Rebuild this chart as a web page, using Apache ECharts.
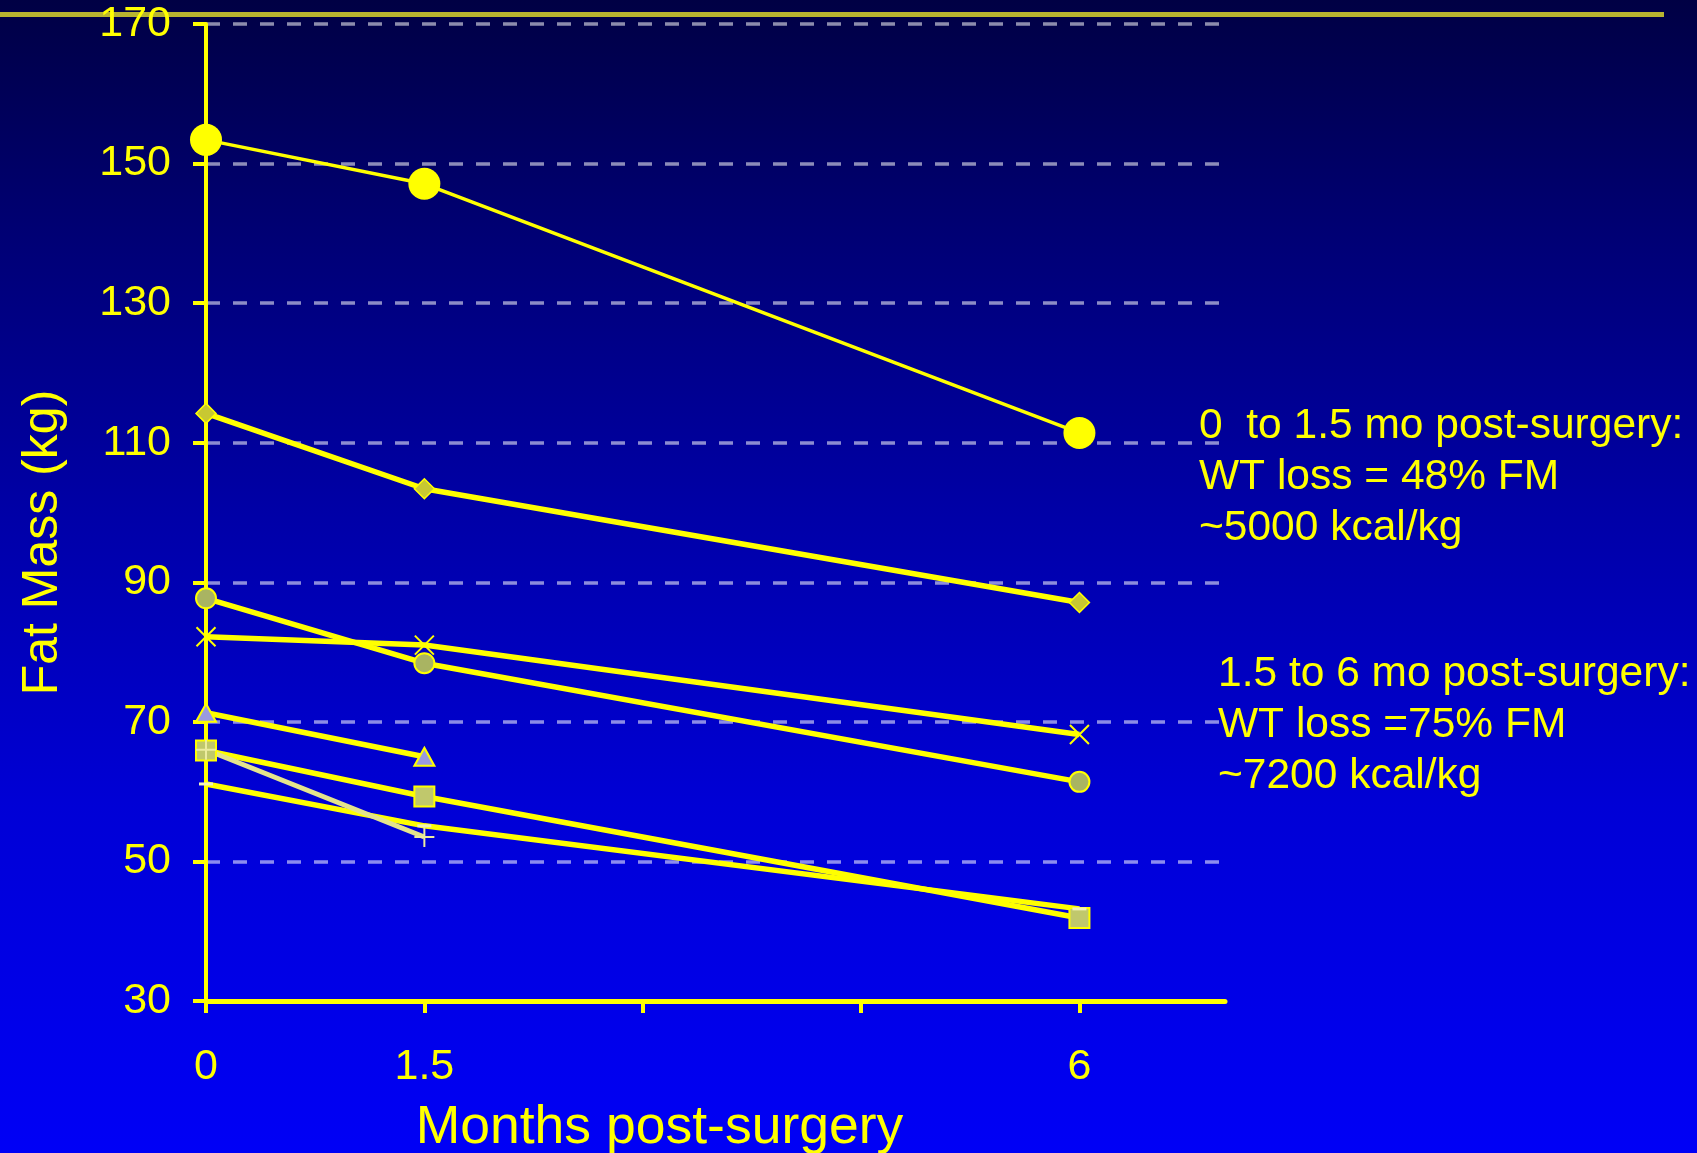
<!DOCTYPE html>
<html>
<head>
<meta charset="utf-8">
<script src="https://cdn.jsdelivr.net/npm/echarts@6/dist/echarts.min.js"></script>
<style>
  html, body { margin: 0; padding: 0; }
  #chart {
    width: 1697px; height: 1153px;
    background: linear-gradient(to bottom, #000044 0%, #000078 22%, #0000a8 45%, #0000d6 70%, #0000f6 100%);
  }
</style>
</head>
<body>
<div id="chart"></div>
<script>
// Months at which fat mass was measured
const months = [0, 1.5, 6];
const monthsShort = [0, 1.5];
const xTickValues = [0, 1.5, 3, 4.5, 6];
const xLabelValues = [0, 1.5, 6];

// Fat mass (kg) per patient
const patientCircleLarge = [153.4, 147.1, 111.4];
const patientDiamond = [114.2, 103.4, 87.1];
const patientCircle = [87.7, 78.4, 61.4];
const patientCross = [82.2, 81.0, 68.2];
const patientTriangle = [71.3, 65.0];
const patientSquare = [65.9, 59.3, 41.9];
const patientDash = [61.1, 55.1, 43.2];
const patientPlus = [66.0, 53.5];

const noteEarly = ['0  to 1.5 mo post-surgery:', 'WT loss = 48% FM', '~5000 kcal/kg'];
const noteLate = ['1.5 to 6 mo post-surgery:', 'WT loss =75% FM', '~7200 kcal/kg'];

const YELLOW = '#ffff00';
const FONT = '"Liberation Sans", Arial, sans-serif';

const pairs = (xs, ys) => ys.map((v, i) => [xs[i], v]);

function lineSeries(name, xs, ys, opts) {
  return Object.assign({
    name: name,
    type: 'line',
    data: pairs(xs, ys),
    showAllSymbol: true,
    lineStyle: { color: YELLOW, width: 5.5 },
    emphasis: { disabled: true }
  }, opts);
}

const chart = echarts.init(document.getElementById('chart'), null, { renderer: 'canvas' });

chart.setOption({
  backgroundColor: 'transparent',
  animation: false,
  textStyle: { fontFamily: FONT },
  grid: { left: 206, right: 472, top: 24, bottom: 152, containLabel: false, outerBoundsMode: 'none' },
  xAxis: {
    type: 'value',
    min: 0, max: 7,
    name: 'Months post-surgery',
    nameLocation: 'middle',
    nameGap: 100,
    nameMoveOverlap: false,
    nameTextStyle: { color: YELLOW, fontSize: 53.5, fontFamily: FONT, padding: [0, 112, 0, 0] },
    axisLine: { onZero: false, lineStyle: { color: YELLOW, width: 5 } },
    axisTick: { show: true, customValues: xTickValues, length: 12, lineStyle: { color: YELLOW, width: 4 } },
    axisLabel: { customValues: xLabelValues, color: YELLOW, fontSize: 43, fontFamily: FONT, margin: 45 },
    splitLine: { show: false }
  },
  yAxis: {
    type: 'value',
    min: 30, max: 170, interval: 20,
    name: 'Fat Mass (kg)',
    nameLocation: 'middle',
    nameGap: 138,
    nameMoveOverlap: false,
    nameTextStyle: { color: YELLOW, fontSize: 50, fontFamily: FONT, padding: [0, 60, 0, 0] },
    axisLine: { show: true, onZero: false, lineStyle: { color: YELLOW, width: 4 } },
    axisTick: { show: true, length: 13, lineStyle: { color: YELLOW, width: 4 } },
    axisLabel: { color: YELLOW, fontSize: 43, fontFamily: FONT, margin: 35 },
    splitLine: { show: true, lineStyle: { color: 'rgba(255,255,255,0.55)', width: 3.5, type: [14, 13] } }
  },
  series: [
    lineSeries('Patient A', months, patientCircleLarge, {
      symbol: 'circle', symbolSize: 32,
      lineStyle: { color: YELLOW, width: 3.5 },
      itemStyle: { color: YELLOW, borderColor: YELLOW, borderWidth: 0 }
    }),
    lineSeries('Patient B', months, patientDiamond, {
      symbol: 'diamond', symbolSize: 20,
      itemStyle: { color: '#c8c832', borderColor: YELLOW, borderWidth: 1.5 }
    }),
    lineSeries('Patient C', months, patientCircle, {
      symbol: 'circle', symbolSize: 20,
      itemStyle: { color: '#a9b462', borderColor: YELLOW, borderWidth: 2 }
    }),
    lineSeries('Patient D', months, patientCross, {
      symbol: 'path://M0,0L10,10M10,0L0,10', symbolSize: 19,
      itemStyle: { color: YELLOW, borderColor: YELLOW, borderWidth: 2 }
    }),
    lineSeries('Patient E', monthsShort, patientTriangle, {
      symbol: 'triangle', symbolSize: [20, 18],
      itemStyle: { color: '#9a9ae0', borderColor: YELLOW, borderWidth: 2 }
    }),
    lineSeries('Patient F', months, patientSquare, {
      symbol: 'rect', symbolSize: 20,
      itemStyle: { color: '#c0c86c', borderColor: YELLOW, borderWidth: 2 }
    }),
    lineSeries('Patient G', months, patientDash, {
      symbol: 'rect', symbolSize: [14, 3],
      itemStyle: { color: '#f2f2b8', borderWidth: 0 }
    }),
    lineSeries('Patient H', monthsShort, patientPlus, {
      symbol: 'path://M5,0L5,10M0,5L10,5', symbolSize: 20,
      lineStyle: { color: '#e4e48c', width: 5 },
      itemStyle: { color: '#ececa0', borderColor: '#ececa0', borderWidth: 2 }
    })
  ],
  graphic: [
    { type: 'rect', left: 0, top: 12, shape: { width: 1664, height: 5 }, style: { fill: '#b8b430' }, silent: true },
    { type: 'text', left: 1199, top: 401, style: { text: noteEarly.join('\n'), fill: YELLOW, font: '42.5px ' + FONT, lineHeight: 51 } },
    { type: 'text', left: 1218, top: 649, style: { text: noteLate.join('\n'), fill: YELLOW, font: '42.5px ' + FONT, lineHeight: 51 } }
  ]
});
</script>
</body>
</html>
